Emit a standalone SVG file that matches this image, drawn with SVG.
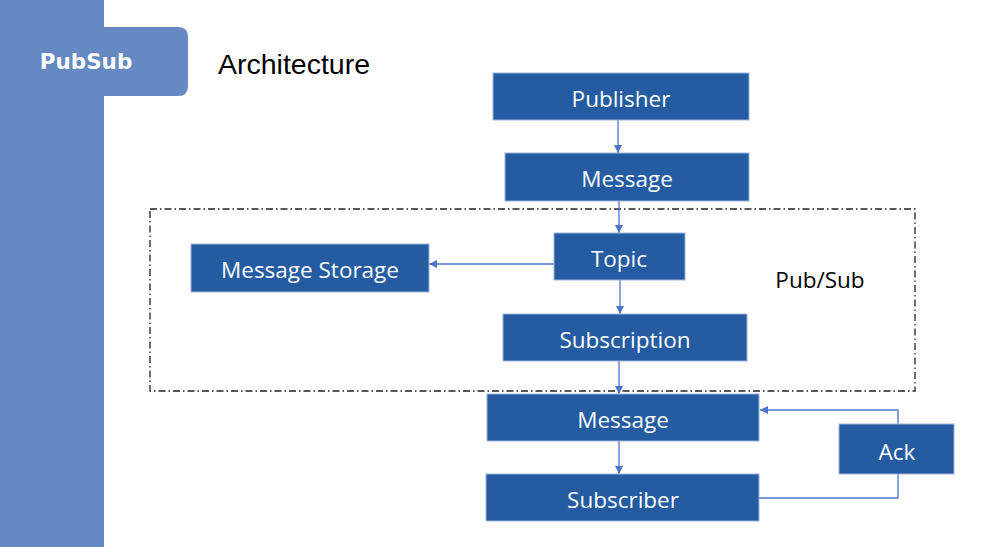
<svg xmlns="http://www.w3.org/2000/svg" width="998" height="547" viewBox="0 0 998 547">
<defs>
<marker id="ah" viewBox="0 0 10 10" refX="10" refY="5" markerWidth="8" markerHeight="8" markerUnits="userSpaceOnUse" orient="auto">
<path d="M0,0 L10,5 L0,10 z" fill="#4C74C8"/>
</marker>
</defs>
<style>
.box{fill:#245BA1;stroke:#9DB4DE;stroke-width:1}
.lbl{font-family:"Open Sans","Noto Sans","DejaVu Sans",sans-serif;font-size:22.5px;fill:#fff;text-anchor:middle;dominant-baseline:central}
.con{fill:none;stroke:#4C74C8;stroke-width:1.3}
</style>
<rect x="0" y="0" width="998" height="547" fill="#fff"/>
<g id="sidebar">
<rect x="0" y="0" width="104" height="547" fill="#6688C3"/>
<path d="M0,27 H178 Q188,27 188,37 V86 Q188,96 178,96 H0 z" fill="#6688C3"/>
<text x="86" y="61" font-family="'DejaVu Sans','Noto Sans',sans-serif" font-weight="bold" font-size="21.5" fill="#fff" text-anchor="middle" dominant-baseline="central">PubSub</text>
</g>
<text x="218" y="74" font-family="'Liberation Sans',Arial,sans-serif" font-size="28.5" fill="#000">Architecture</text>
<g id="pubsub-group">
<rect x="150" y="209" width="765" height="182" fill="none" stroke="#222" stroke-width="1.3" stroke-dasharray="7 3 1.5 3"/>
<text x="820" y="279" font-family="'Open Sans','Noto Sans',sans-serif" font-size="22.5" fill="#000" text-anchor="middle" dominant-baseline="central">Pub/Sub</text>
</g>
<g id="connectors">
<line class="con" x1="618" y1="120" x2="618" y2="153" marker-end="url(#ah)"/>
<line class="con" x1="619" y1="201" x2="619" y2="233" marker-end="url(#ah)"/>
<line class="con" x1="554" y1="264" x2="429" y2="264" marker-end="url(#ah)"/>
<line class="con" x1="620" y1="280" x2="620" y2="314" marker-end="url(#ah)"/>
<line class="con" x1="619" y1="361" x2="619" y2="394" marker-end="url(#ah)"/>
<line class="con" x1="619" y1="441" x2="619" y2="474" marker-end="url(#ah)"/>
<polyline class="con" points="898,424 898,410 760,410" marker-end="url(#ah)"/>
<polyline class="con" points="759,498 898,498 898,474"/>
</g>
<g id="publisher"><rect class="box" x="493" y="73" width="256" height="47"/><text class="lbl" x="621" y="98">Publisher</text></g>
<g id="message1"><rect class="box" x="505" y="153" width="244" height="48"/><text class="lbl" x="627" y="178">Message</text></g>
<g id="topic"><rect class="box" x="554" y="233" width="131" height="47"/><text class="lbl" x="619" y="258">Topic</text></g>
<g id="message-storage"><rect class="box" x="191" y="244" width="238" height="48"/><text class="lbl" x="310" y="269">Message Storage</text></g>
<g id="subscription"><rect class="box" x="503" y="314" width="244" height="47"/><text class="lbl" x="625" y="339">Subscription</text></g>
<g id="message2"><rect class="box" x="487" y="394" width="272" height="47"/><text class="lbl" x="623" y="419">Message</text></g>
<g id="subscriber"><rect class="box" x="486" y="474" width="273" height="47"/><text class="lbl" x="623" y="499">Subscriber</text></g>
<g id="ack"><rect class="box" x="839" y="424" width="115" height="50"/><text class="lbl" x="897" y="451">Ack</text></g>
</svg>
